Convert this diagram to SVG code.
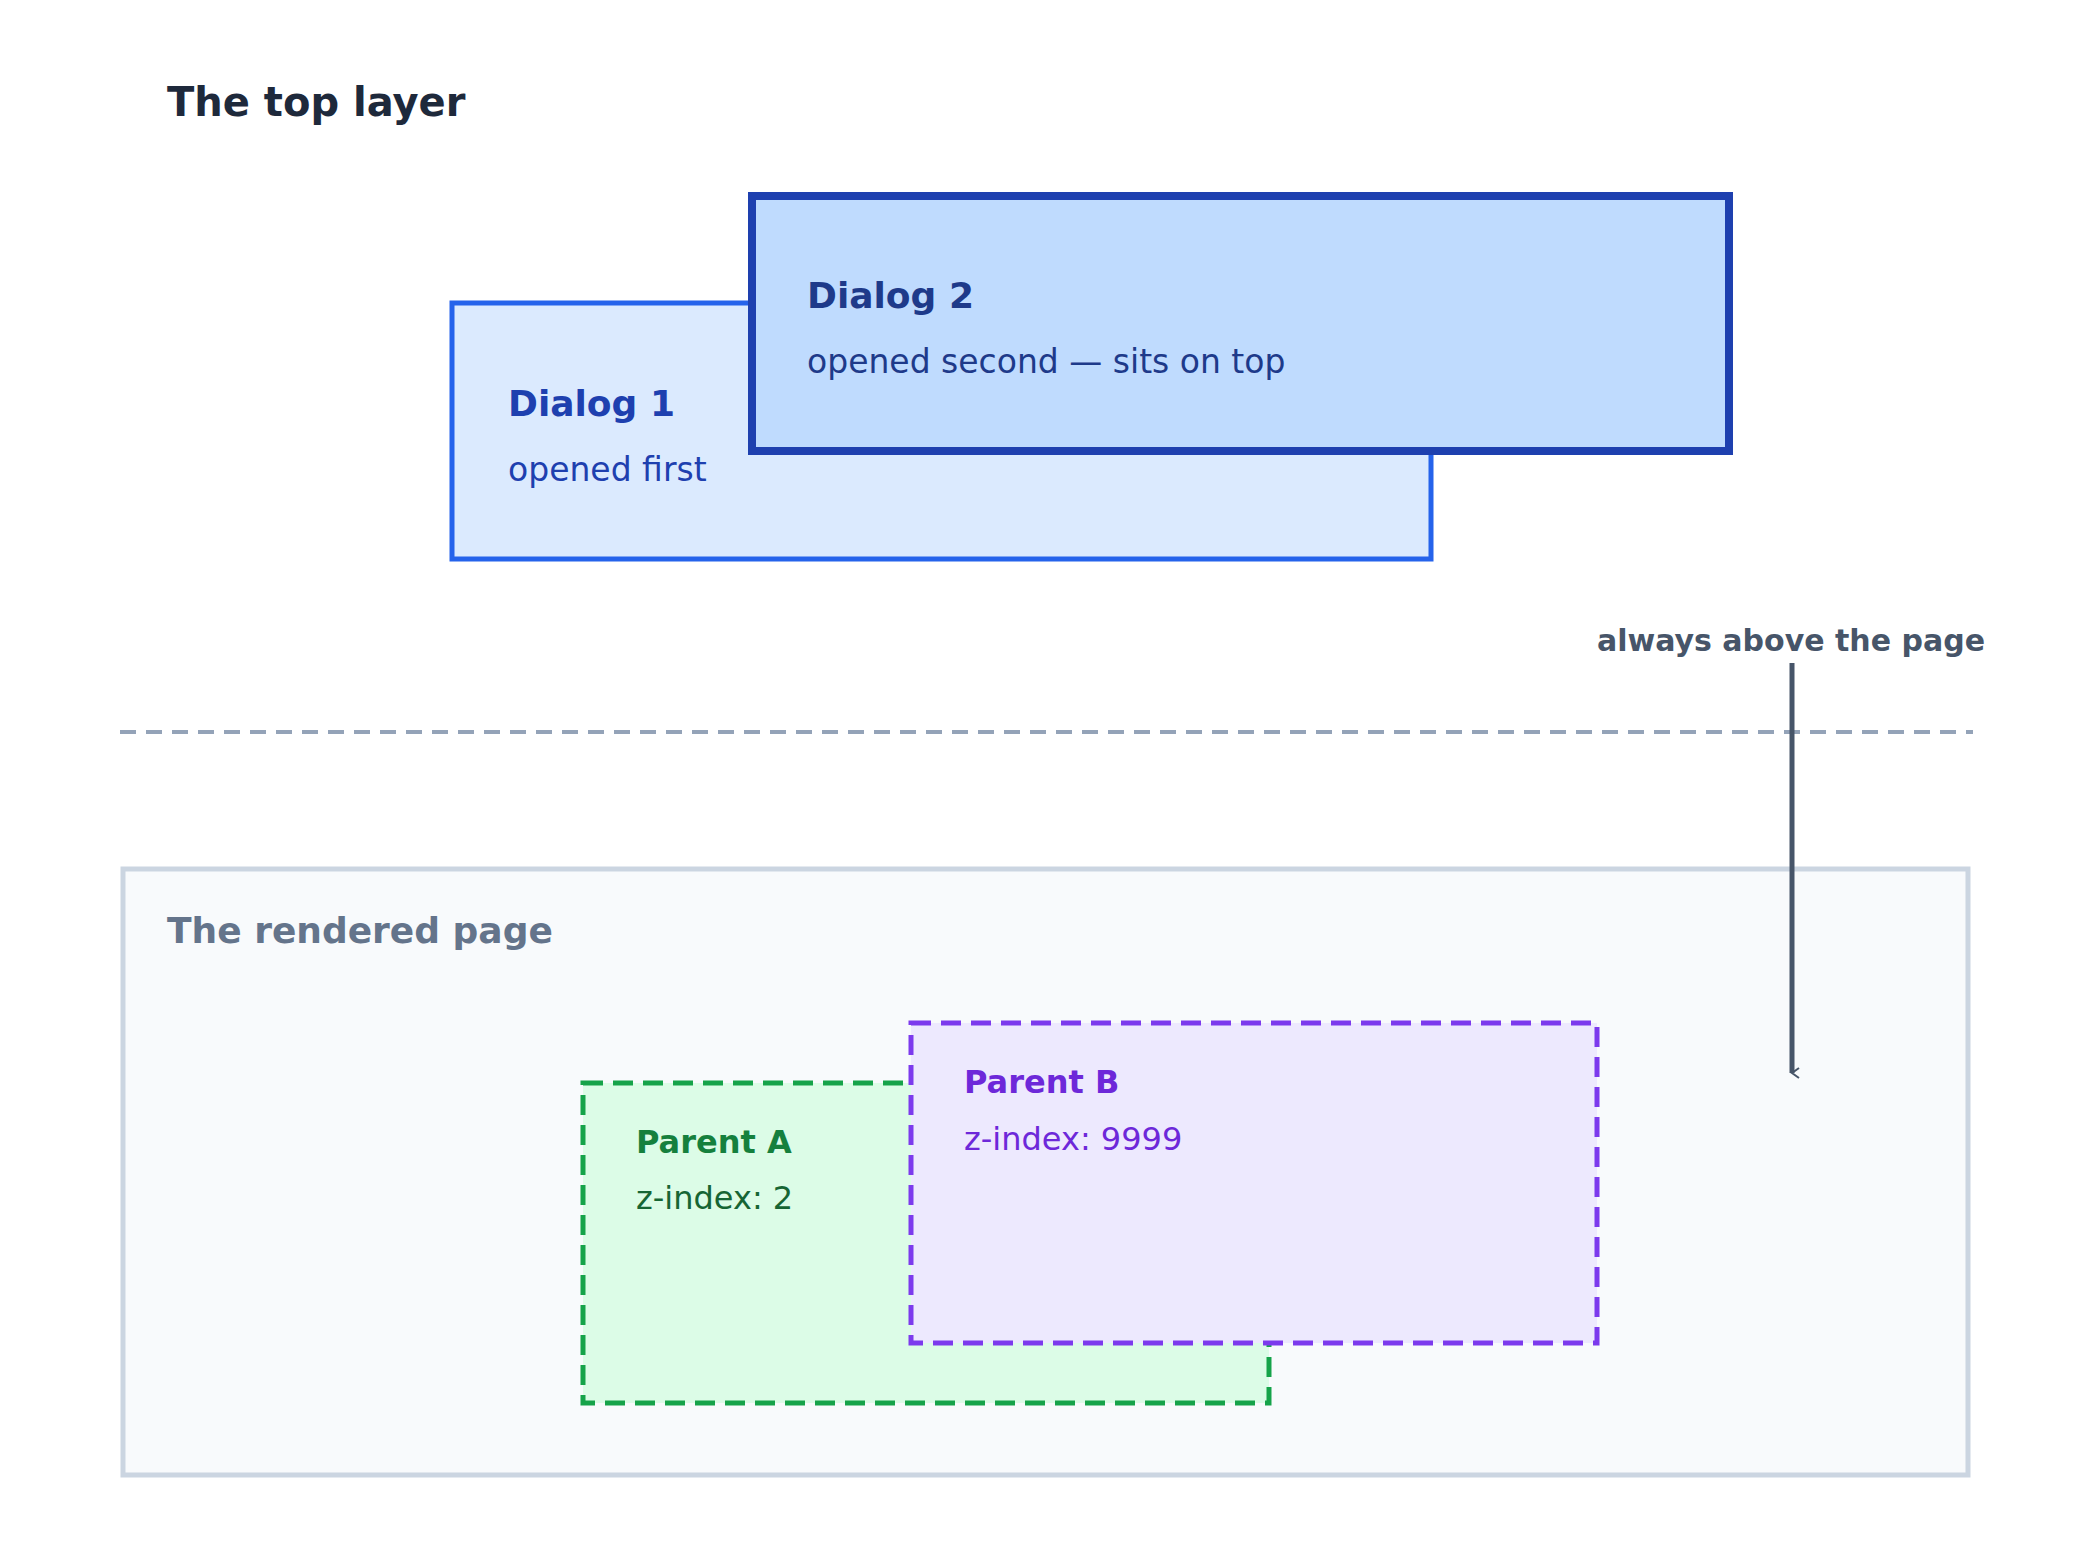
<svg xmlns="http://www.w3.org/2000/svg" width="2080" height="1545" viewBox="0 0 2080 1545">
<style>
text{font-family:"DejaVu Sans","Liberation Sans",sans-serif}
.b{font-weight:bold}
</style>
<defs>
<marker id="ah" markerWidth="12" markerHeight="12" refX="6" refY="10" orient="auto" markerUnits="userSpaceOnUse" viewBox="0 0 12 12"><path d="M1,3 L6,10 L11,3" fill="none" stroke="#475569" stroke-width="2"/></marker>
</defs>
<rect width="2080" height="1545" fill="#fff"/>
<text x="167" y="116" class="b" font-size="40" fill="#1e293b">The top layer</text>
<g id="page">
<rect x="123" y="869" width="1845" height="606" fill="#f8fafc" stroke="#cbd5e1" stroke-width="5"/>
<text x="167" y="943" class="b" font-size="36" fill="#64748b">The rendered page</text>
</g>
<g id="parentA">
<rect x="583" y="1083" width="686" height="320" fill="#dcfce7" stroke="#16a34a" stroke-width="5" stroke-dasharray="20 10"/>
<text x="636" y="1153" class="b" font-size="32" fill="#15803d">Parent A</text>
<text x="636" y="1209" font-size="32" fill="#166534">z-index: 2</text>
</g>
<g id="parentB">
<rect x="911" y="1023" width="686" height="320" fill="#ede9fe" stroke="#7c3aed" stroke-width="5" stroke-dasharray="20 10"/>
<text x="964" y="1093" class="b" font-size="32" fill="#6d28d9">Parent B</text>
<text x="964" y="1150" font-size="32" fill="#6d28d9">z-index: 9999</text>
</g>
<g id="dialog1">
<rect x="452" y="303" width="979" height="256" fill="#dbeafe" stroke="#2563eb" stroke-width="5"/>
<text x="508" y="416" class="b" font-size="36" fill="#1e40af">Dialog 1</text>
<text x="508" y="481" font-size="33" fill="#1e40af">opened first</text>
</g>
<g id="dialog2">
<rect x="752" y="196" width="977" height="255" fill="#bfdbfe" stroke="#1e40af" stroke-width="8"/>
<text x="807" y="308" class="b" font-size="36" fill="#1e3a8a">Dialog 2</text>
<text x="807" y="373" font-size="33" fill="#1e3a8a">opened second — sits on top</text>
</g>
<g id="connectors">
<line x1="120" y1="732" x2="1973" y2="732" stroke="#94a3b8" stroke-width="4" stroke-dasharray="16 10"/>
<line x1="1792" y1="663" x2="1792" y2="1073" stroke="#475569" stroke-width="5" marker-end="url(#ah)"/>
</g>
<text x="1791" y="651" text-anchor="middle" class="b" font-size="30" fill="#475569">always above the page</text>
</svg>
